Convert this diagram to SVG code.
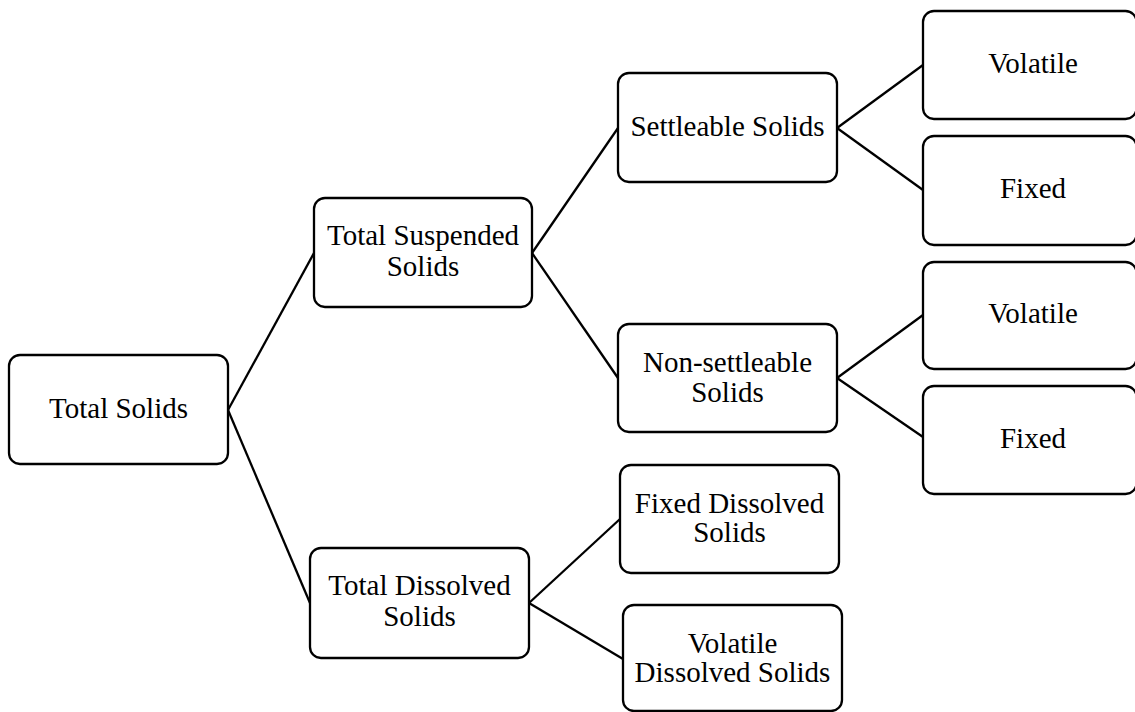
<svg xmlns="http://www.w3.org/2000/svg" width="1135" height="712" viewBox="0 0 1135 712">
<style>
.box{fill:#fff;stroke:#000;stroke-width:2.3}
.lbl{font-size:29px;fill:#000;text-anchor:middle}
.con line{stroke:#000;stroke-width:2.3;fill:none}
</style>
<rect width="1135" height="712" fill="#fff"/>
<g id="connectors" class="con">
<line x1="228" y1="410" x2="314" y2="253"/>
<line x1="228" y1="410" x2="310" y2="603"/>
<line x1="532" y1="253" x2="618" y2="128"/>
<line x1="532" y1="253" x2="618" y2="378"/>
<line x1="529" y1="603" x2="620" y2="519"/>
<line x1="529" y1="603" x2="623" y2="659"/>
<line x1="837" y1="128" x2="923" y2="65"/>
<line x1="837" y1="128" x2="923" y2="190"/>
<line x1="837" y1="378" x2="923" y2="315"/>
<line x1="837" y1="378" x2="923" y2="437"/>
</g>
<g font-family="Liberation Serif, Times New Roman, serif">
<g id="total-solids"><rect class="box" x="9" y="355" width="219" height="109" rx="11"/><text class="lbl" x="118.5" y="418">Total Solids</text></g>
<g id="tss"><rect class="box" x="314" y="198" width="218" height="109" rx="11"/><text class="lbl" x="423" y="245">Total Suspended</text><text class="lbl" x="423" y="276">Solids</text></g>
<g id="tds"><rect class="box" x="310" y="548" width="219" height="110" rx="11"/><text class="lbl" x="419.5" y="595">Total Dissolved</text><text class="lbl" x="419.5" y="626">Solids</text></g>
<g id="settleable"><rect class="box" x="618" y="73" width="219" height="109" rx="11"/><text class="lbl" x="727.5" y="136">Settleable Solids</text></g>
<g id="non-settleable"><rect class="box" x="618" y="324" width="219" height="108" rx="11"/><text class="lbl" x="727.5" y="372">Non-settleable</text><text class="lbl" x="727.5" y="402">Solids</text></g>
<g id="fixed-dissolved"><rect class="box" x="620" y="465" width="219" height="108" rx="11"/><text class="lbl" x="729.5" y="513">Fixed Dissolved</text><text class="lbl" x="729.5" y="542">Solids</text></g>
<g id="volatile-dissolved"><rect class="box" x="623" y="605" width="219" height="106" rx="11"/><text class="lbl" x="732.5" y="653">Volatile</text><text class="lbl" x="732.5" y="682">Dissolved Solids</text></g>
<g id="volatile-1"><rect class="box" x="923" y="11" width="213.5" height="108" rx="11"/><text class="lbl" x="1033" y="73">Volatile</text></g>
<g id="fixed-1"><rect class="box" x="923" y="136" width="213.5" height="109" rx="11"/><text class="lbl" x="1033" y="198">Fixed</text></g>
<g id="volatile-2"><rect class="box" x="923" y="262" width="213.5" height="107" rx="11"/><text class="lbl" x="1033" y="323">Volatile</text></g>
<g id="fixed-2"><rect class="box" x="923" y="386" width="213.5" height="108" rx="11"/><text class="lbl" x="1033" y="448">Fixed</text></g>
</g>
</svg>
